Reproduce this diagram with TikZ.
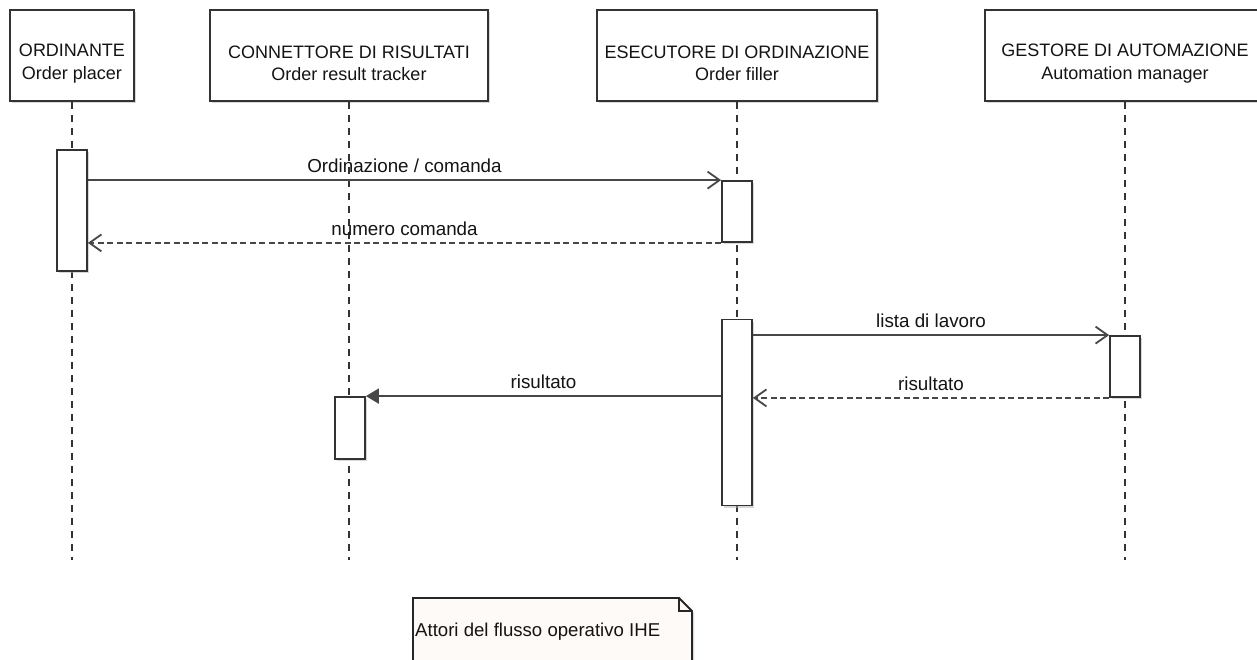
\documentclass[tikz,border=0pt]{standalone}
\usepackage{fontspec}
\setmainfont{Liberation Sans}
\usetikzlibrary{arrows.meta,shadows}
\definecolor{linecol}{HTML}{333333}
\definecolor{notefill}{HTML}{FEFAF7}
\begin{document}
\begin{tikzpicture}[x=1pt,y=-1pt,
  font=\fontsize{18}{22}\selectfont,
  boxshadow/.style={drop shadow={shadow xshift=2pt,shadow yshift=-2pt,fill=black!30,opacity=0.5}},
  head/.style={draw=linecol,line width=1.8pt,fill=white,boxshadow,minimum height=91pt,inner sep=0pt},
  headtext/.style={align=center,text=black!92,inner sep=0pt,font=\fontsize{18}{22.5}\selectfont},
  actbar/.style={draw=linecol,line width=1.8pt,fill=white,boxshadow,minimum width=30pt,inner sep=0pt},
  lifeline/.style={draw=linecol,line width=1.6pt,dash pattern=on 7pt off 6pt},
  msg/.style={draw=linecol!90,line width=2pt,-{Straight Barb[length=12pt,width=17pt,line width=1.8pt]}},
  reply/.style={msg,dash pattern=on 6pt off 3.5pt},
  syncmsg/.style={draw=linecol!90,line width=2pt,-{Triangle[length=13pt,width=15pt]}},
  lbl/.style={text=black!92,above=6pt,inner sep=0pt,font=\fontsize{18.8}{22}\selectfont}
]
\useasboundingbox[fill=white] (0,0) rectangle (1257,659);

% lifeline heads
\node[head,minimum width=124pt,label={[headtext,yshift=-8pt]center:ORDINANTE\\Order placer}] (h1) at (72,55.5) {};
\node[head,minimum width=278pt,label={[headtext,yshift=-8pt]center:CONNETTORE DI RISULTATI\\Order result tracker}] (h2) at (349,55.5) {};
\node[head,minimum width=280pt,label={[headtext,yshift=-8pt]center:ESECUTORE DI ORDINAZIONE\\Order filler}] (h3) at (737,55.5) {};
\node[head,minimum width=280pt,label={[headtext,yshift=-8pt]center:GESTORE DI AUTOMAZIONE\\Automation manager}] (h4) at (1125,55.5) {};

% lifelines
\coordinate (end) at (0,560);
\foreach \h in {h1,h2,h3,h4} \draw[lifeline] (\h.south) -- (\h.south |- end);

% activation bars
\node[actbar,minimum height=121pt] (a1) at (72,210.5) {};
\node[actbar,minimum height=61pt]  (a2) at (737,211.5) {};
\node[actbar,minimum height=186pt] (a3) at (737,412.5) {};
\node[actbar,minimum height=61pt]  (a4) at (1125,366.5) {};
\node[actbar,minimum height=62pt]  (a5) at (350,428) {};

% messages
\draw[msg] (a1.east |- a2.north west) -- node[lbl] {Ordinazione / comanda} (a2.north west);
\draw[reply] (a2.south west) -- node[lbl] {numero comanda} (a1.east |- a2.south west);
\draw[msg] (a3.east |- a4.north west) -- node[lbl] {lista di lavoro} (a4.north west);
\draw[reply] (a4.south west) -- node[lbl] {risultato} (a3.east |- a4.south west);
\draw[syncmsg] (a3.west |- a5.north east) -- node[lbl] {risultato} (a5.north east);

% note
\draw[draw=black!85,line width=1.8pt,fill=notefill,boxshadow]
  (413,670) -- (413,598) -- (679,598) -- (692,611) -- (692,670);
\draw[draw=black!85,line width=1.4pt] (679,598) -- (679,611) -- (692,611);
\node[anchor=base west,inner sep=0pt,text=black!92,font=\fontsize{18.6}{22}\selectfont] (note) at (415,636) {Attori del flusso operativo IHE};
\end{tikzpicture}
\end{document}
